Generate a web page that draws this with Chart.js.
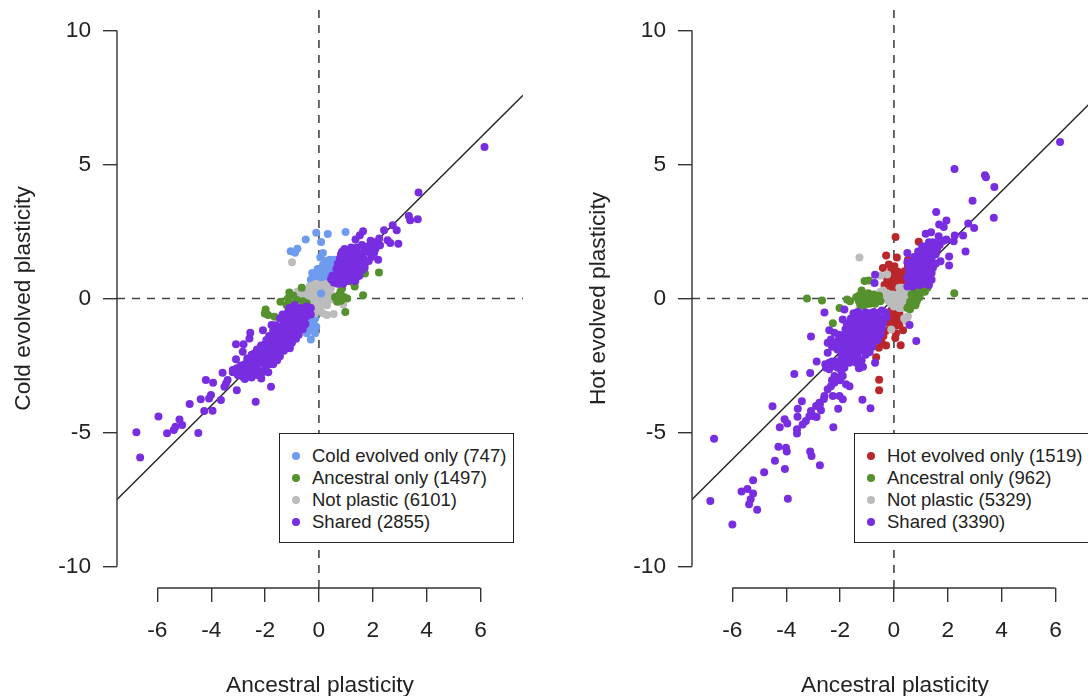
<!DOCTYPE html>
<html>
<head>
<meta charset="utf-8">
<title>Plasticity scatter</title>
<script src="https://cdn.jsdelivr.net/npm/chart.js@4"></script>
<style>
  html, body { margin: 0; padding: 0; background: #fff; }
  body { position: relative; width: 1088px; height: 696px; overflow: hidden; font-family: "Liberation Sans", Arial, sans-serif; color: #222; }
  canvas { position: absolute; top: 0; }
  #coldChart { left: 0; }
  #hotChart { left: 575px; }
  .legend { position: absolute; top: 433px; width: 233px; height: 108px; background: #fff; border: 1.3px solid #222; font-size: 18.5px; }
  #coldLegend { left: 279px; }
  #hotLegend { left: 854px; width: 240px; }
  .legend div { position: absolute; left: 32px; white-space: nowrap; line-height: 22px; }
  .legend i { position: absolute; left: -20px; top: 7px; width: 8px; height: 8px; border-radius: 50%; }
</style>
</head>
<body>
<canvas id="coldChart" width="540" height="696"></canvas>
<canvas id="hotChart" width="540" height="696"></canvas>
<div class="legend" id="coldLegend"></div>
<div class="legend" id="hotLegend"></div>
<script>
// axis ticks
const xTicks = [-6, -4, -2, 0, 2, 4, 6];
const yTicks = [-10, -5, 0, 5, 10];

// colours
const blue = "#6f9bee";
const red = "#b9272a";
const green = "#55912d";
const grey = "#bcbcbc";
const purple = "#782ee0";

// Cold panel, values
const coldOnly = [[-.1,2.45],[.33,2.41],[.99,2.48],[-.49,2.2],[.08,2.11],[-1.05,1.76],[-.89,1.71],[-.8,1.86],[.15,1.7],[.05,1.53],
  [.3,1.24],[.49,1.24],[.18,1.06],[.36,1.06],[-.08,.93],[.11,.87],[-.2,.75],[0,.68],[.24,.75],[.43,.93],[.61,1.18],[.1,1.0],[.25,.95],[-.05,.8],
  [.4,1.45],[.55,1.45],[.25,1.4],[.15,1.25],[-.25,.95],[-.3,.7],[-.05,1.1],[.5,.95],
  [-.26,-1.18],[-.45,-1.3],[-.3,-1.53],[-.14,-1.3],[-.39,-1.12],[-.14,-.75],[-.7,-1.06],[-.01,-.43],[-.26,-.68],[-.2,-.95],[-.1,-1.05],[-.35,-.9]];
const coldOnlyTop = [[.08,.19]];
const coldAncestral = [[1.71,.93],[2.23,.97],[1.64,.12],[.98,-.5],[1.24,.62],[1.33,.45],[.8,.25],[.93,.06],[.74,.12],[1.05,0],[.68,-.12],[.86,.37],[.6,.05],[.82,-.08],[1.15,.7],
  [-.64,.4],[-1.1,.22],[-1.43,-.12],[-1.15,0],[-1.08,-.18],[-.82,-.06],[-.45,-.18],[-.95,.1],[-1.2,-.25],[-1.05,-.3],[-.6,-.1],
  [-1.98,-.41],[-2.01,-.56],[-1.89,-.62],[-1.65,-.68]];
const coldNotPlastic = [[-1.0,1.35],[-.8,.25],[-.65,.1],[-.5,.3],[-.5,.1],[-.35,.45],[-.3,.2],[-.2,.5],[-.2,.05],[-.1,.3],[-.05,.1],[0,.45],[.1,.5],[.2,.35],[.3,.55],[.35,.2],[.45,.4],[.5,.1],[.25,.05],[.1,.05],[.4,-.05],[.6,-.05],[-.35,-.05],[0,-.15],[.15,-.2],[.3,-.25],[-.1,-.3],[.05,-.45],[-.15,-.55],[-.91,-.25],[.55,-.58],[.3,-.62],[.9,-.22],[.15,-.55],
  [-.6,.35],[-.4,.3],[.15,.15],[-.15,-.15],[.2,-.05],[-.05,-.45],[.4,.3],[-.1,.55],[.1,.3],[.25,.25],[-.25,.35]];
const coldShared = [[3.7,3.95],[3.34,3.08],[3.39,2.92],[3.67,2.96],[2.74,2.73],[2.42,2.55],[2.89,2.55],[1.64,2.51],[1.52,2.36],[1.36,2.2],[2.55,2.17],[2.65,2.07],[2.95,2.04],[2.24,2.24],[1.92,2.15],[2.27,1.99],[6.15,5.65],
  [.45,.72],[.55,.6],[.6,.85],[.7,.55],[.72,.75],[.75,1.0],[.8,.65],[.85,.85],[.88,1.15],[.9,.55],[.95,.75],[1.0,.95],[.95,1.3],[1.05,1.15],[1.08,.65],[1.1,.85],[.85,1.35],[1.15,1.05],[1.15,1.45],[1.2,1.25],[1.25,.85],[1.3,1.05],[1.05,1.5],[1.3,1.5],[1.35,1.3],[1.4,1.1],[1.45,1.7],[1.5,1.45],[1.55,1.25],[1.25,1.7],[1.6,1.7],[1.65,1.5],[1.7,1.9],[1.4,1.9],[1.8,1.75],[1.85,1.95],[1.95,2.05],[2.0,1.85],[1.6,2.0],[2.1,2.1],[1.75,1.35],[1.95,1.55],[2.2,1.45],[1.92,1.68],[1.42,.81],[1.42,1.06],[.86,1.74],[1.05,1.74],
  [.5,.85],[.5,.7],[.65,1.1],[.7,1.3],[.78,1.5],[.82,1.65],[.95,1.85],[1.2,1.9],[1.35,.65],[1.5,.85],[1.6,1.05],[1.7,1.15],[1.85,1.4],[2.05,1.7],[2.1,1.85],[2.2,2.0],[1.35,.85],[1.6,1.3],[1.1,1.65],[1.3,1.25],
  [-.4,-.45],[-.55,-.4],[-.7,-.35],[-.85,-.4],[-1.0,-.45],[-1.15,-.5],[-.45,-.65],[-.6,-.6],[-.75,-.55],[-.9,-.6],[-1.05,-.65],[-1.2,-.7],[-.55,-.8],[-.7,-.8],[-.85,-.8],[-1.0,-.8],[-1.15,-.85],[-1.3,-.85],[-.7,-1.0],[-.85,-1.0],[-1.0,-1.0],[-1.15,-1.0],[-1.3,-1.0],[-1.45,-1.05],[-.8,-1.2],[-.95,-1.15],[-1.1,-1.2],[-1.25,-1.15],[-1.4,-1.2],[-1.55,-1.2],[-1.0,-1.35],[-1.15,-1.35],[-1.3,-1.35],[-1.45,-1.35],[-1.6,-1.35],[-1.1,-1.55],[-1.25,-1.5],[-1.4,-1.55],[-1.55,-1.5],[-1.7,-1.55],[-1.25,-1.7],[-1.4,-1.7],[-1.55,-1.7],[-1.7,-1.7],[-1.85,-1.7],[-1.45,-1.9],[-1.6,-1.85],[-1.75,-1.9],[-1.9,-1.85],[-2.05,-1.9],[-1.65,-2.05],[-1.8,-2.05],[-1.95,-2.05],[-2.1,-2.05],[-2.25,-2.05],[-1.8,-2.2],[-1.95,-2.2],[-2.1,-2.2],[-2.25,-2.2],[-2.4,-2.25],[-2.05,-2.4],[-2.2,-2.4],[-2.35,-2.4],[-2.5,-2.45],[-2.3,-2.6],[-2.45,-2.6],[-2.6,-2.6],[-2.75,-2.65],[-2.9,-2.7],[-2.55,-2.75],[-2.7,-2.85],
  [-1.45,-.75],[-1.35,-.6],[-1.6,-1.0],[-1.7,-1.2],[-1.85,-1.4],[-1.95,-1.55],[-2.0,-1.7],[-2.15,-1.75],[-2.3,-1.9],[-2.4,-2.05],[-2.5,-2.1],[-2.65,-2.3],[-2.75,-2.45],[-2.9,-2.5],[-3.05,-2.6],[-3.2,-2.75],
  [-.3,-.6],[-.5,-.95],[-.6,-1.15],[-.75,-1.35],[-.85,-1.5],[-1.0,-1.65],[-1.1,-1.75],[-1.3,-1.95],[-1.45,-2.15],[-1.55,-2.3],[-1.7,-2.45],[-1.85,-2.45],[-2.0,-2.6],[-2.1,-2.75],[-2.3,-2.85],[-2.5,-2.95],[-2.75,-3.0],[-.45,-.3],[-.3,-.35],[-.9,-.25],[-1.1,-.35],
  [-6.78,-4.99],[-6.64,-5.93],[-5.96,-4.4],[-5.64,-5.03],[-5.39,-4.91],[-5.33,-4.78],[-5.18,-4.51],[-5.08,-4.72],[-4.48,-5.02],[-4.8,-3.94],[-4.39,-3.76],[-4.26,-4.2],[-3.95,-4.19],[-4.2,-3.04],[-3.93,-3.14],[-4.01,-3.6],[-4.08,-3.73],[-3.64,-3.79],[-3.58,-2.77],[-3.51,-3.29],[-3.39,-3.04],[-3.45,-3.17],[-3.05,-3.42],[-2.35,-3.85],[-2.14,-2.98],[-1.88,-2.75],[-1.78,-3.29],[-3.08,-1.71],[-2.8,-1.71],[-2.55,-1.28],[-2.58,-1.49],[-2.83,-1.99],[-3.08,-2.27],[-2.66,-2.24],[-3.2,-2.67],[-3.01,-2.86],[-2.83,-2.92],[-2.35,-2.67],[-1.7,-2.24],[-1.08,-1.86],[-1.39,-1.93],[-2.08,-1.18],[-1.76,-.99]];

// Hot panel, values
const hotOnly = [[.06,2.29],[.92,2.12],[-.29,1.6],[.11,1.53],[.52,1.45],[-.41,1.14],[-.19,1.27],[.02,1.2],[.21,.96],[.4,1.02],[.52,1.2],[-.05,.83],[.1,.7],[-.22,.52],[-.1,.33],[.09,.33],[.27,.46],[.15,1.0],[-.1,1.05],[.3,.85],
  [.0,.95],[.1,.85],[.25,.75],[.35,.7],[.45,.85],[-.05,.55],[.05,.5],[.2,.55],[-.25,.7],[-.3,.35],[-.35,.5],
  [.02,-.72],[-.1,-.78],[.15,-.85],[-.22,-.66],[-.04,-.97],[.21,-.66],[.05,-.55],[.34,-1.18],[.05,-1.47],[.25,-1.74],[-.29,-1.75],[-.56,-1.84],[-.39,-1.4],[-.66,-2.19],[-.55,-3.03],[-.55,-3.42],[-.45,-1.65],[-.3,-1.2],[.08,-1.3],
  [-.1,-.45],[.1,-.45],[.2,-.55],[-.15,-.95],[.1,-1.0],[.2,-1.0]];
const hotAncestral = [[-3.23,0],[-2.67,-.07],[-1.74,-.04],[-1.63,-.1],[-2.02,-.35],[-2.27,-.92],[-1.09,.65],[-.93,.67],[2.24,.2],
  [-1.4,.05],[-1.3,.1],[-1.3,-.1],[-1.25,-.25],[-1.15,.15],[-1.1,-.05],[-1.1,-.25],[-.95,.2],[-.9,0],[-.9,-.2],[-.75,.15],[-.7,-.05],[-.7,-.2],[-.55,.1],[-.5,-.1],[-1.2,.3],
  [.55,-.3],[.65,-.2],[.7,-.05],[.8,.1],[.85,-.1],[.65,.15],[.9,.25],[.95,.05],[.75,.3],[.85,.4],[1.25,.4],[1.1,.4],[.6,-.12],
  [.5,-.35],[.6,-.4],[.75,-.15],[.95,.15],[1.15,.25],[.7,.45],[.85,.5],[.8,-.25]];
const hotNotPlastic = [[-1.28,1.53],[-.5,.85],[-.4,.3],[-.25,.2],[-.5,.25],[-.3,0],[-.15,.05],[-.1,-.12],[0,.05],[.1,-.05],[.2,.1],[.3,.05],[.4,.15],[.1,-.25],[.25,-.2],[.2,-.35],[0,-.3],[.4,-.15],[.5,.25],[.3,.4],[.52,-.66],[.48,-.85],[-.1,-1.16],[-.91,-.62],[.38,-.75],[-.25,.9],
  [-.2,-.1],[.05,-.15],[.15,.15],[.35,-.25],[.45,0],[-.05,.15],[.5,.1],[-.1,-.2],[.3,-.35],[.2,.4]];
const hotShared = [[6.17,5.84],[2.25,4.83],[3.38,4.6],[3.42,4.52],[3.73,4.16],[2.92,3.65],[1.57,3.23],[3.71,3.01],[1.95,2.91],[1.68,2.76],[1.85,2.67],[2.76,2.8],[2.98,2.63],[1.18,2.42],[1.38,2.47],[1.66,2.32],[2.57,2.35],[2.26,2.35],[2.22,2.14],[1.95,2.2],[2.66,1.75],[2.05,1.57],[2.05,1.23],[1.73,1.39],[.5,1.7],[-.7,.89],[-.72,.58],[-2.58,-.52],[-1.84,-.41],[-3.08,-1.42],[-2.4,-1.18],[.58,-.99],[.83,-1.59],[-2.87,-2.35],[-3.7,-2.82],[-3.11,-2.78],[-.7,-2.4],[-1.17,-3.78],[-.87,-4.09],[-4.51,-4.02],[-3.42,-3.83],[-3.57,-4.11],[-3.58,-4.41],[-4.06,-4.5],[-3.96,-4.66],[-4.24,-4.8],[-2.25,-4.8],[-3.6,-4.88],[-3.6,-5.04],[-3.39,-4.7],[-3.27,-4.57],[-6.68,-5.23],[-4.29,-5.53],[-4.01,-5.57],[-3.98,-5.71],[-3.11,-5.71],[-3.06,-5.88],[-2.75,-6.22],[-4.42,-6.05],[-4.05,-6.36],[-4.82,-6.48],[-5.23,-6.78],[-5.66,-7.2],[-5.44,-7.11],[-5.23,-7.27],[-5.32,-7.49],[-5.38,-7.68],[-5.08,-7.88],[-3.94,-7.47],[-6.82,-7.55],[-6.0,-8.43],
  [-3.08,-4.2],[-2.96,-4.39],[-2.87,-4.42],[-2.71,-4.17],[-3.14,-4.39],[-2.89,-4.01],[-2.77,-3.89],[-2.58,-3.64],[-2.46,-3.39],[-2.34,-3.27],[-2.21,-3.14],[-2.09,-2.96],[-1.9,-2.89],[-1.78,-3.2],[-1.65,-3.27],[-2.27,-3.64],[-2.02,-3.64],[-1.9,-3.76],[-2.07,-4.11],[-2.21,-2.89],[-2.52,-2.58],[-2.4,-2.64],[-2.27,-2.52],[-2.09,-2.58],[-1.84,-2.58],[-1.65,-2.4],[-1.28,-2.58],[-1.4,-2.4],[-2.0,-3.05],[-1.95,-2.7],[-2.6,-3.75],[-2.75,-3.95],[-2.3,-3.05],
  [-1.5,-.55],[-1.35,-.5],[-1.2,-.55],[-1.05,-.52],[-.9,-.55],[-.75,-.5],[-.6,-.55],[-.45,-.45],[-.3,-.52],
  [-1.6,-.75],[-1.45,-.75],[-1.3,-.72],[-1.15,-.75],[-1.0,-.75],[-.85,-.75],[-.7,-.72],[-.55,-.75],[-.4,-.75],[-.27,-.7],
  [-1.75,-.95],[-1.6,-.95],[-1.45,-.92],[-1.3,-.95],[-1.15,-.95],[-1.0,-.95],[-.85,-.92],[-.7,-.95],[-.55,-.95],[-.4,-.92],
  [-1.8,-1.15],[-1.65,-1.15],[-1.5,-1.12],[-1.35,-1.15],[-1.2,-1.15],[-1.05,-1.15],[-.9,-1.12],[-.75,-1.15],[-.6,-1.15],[-.45,-1.12],
  [-1.85,-1.35],[-1.7,-1.35],[-1.55,-1.32],[-1.4,-1.35],[-1.25,-1.35],[-1.1,-1.35],[-.95,-1.32],[-.8,-1.35],[-.65,-1.32],
  [-1.9,-1.55],[-1.75,-1.55],[-1.6,-1.52],[-1.45,-1.55],[-1.3,-1.55],[-1.15,-1.55],[-1.0,-1.52],[-.85,-1.55],[-.75,-1.6],
  [-2.2,-1.7],[-1.95,-1.75],[-1.8,-1.75],[-1.65,-1.72],[-1.5,-1.75],[-1.35,-1.75],[-1.2,-1.72],[-1.05,-1.75],[-.95,-1.8],
  [-1.9,-1.95],[-1.75,-1.95],[-1.6,-1.92],[-1.45,-1.95],[-1.3,-1.95],[-1.15,-1.92],
  [-1.95,-2.15],[-1.8,-2.15],[-1.65,-2.12],[-1.5,-2.15],[-1.35,-2.12],
  [-2.0,-2.35],[-1.85,-2.32],[-1.7,-2.35],[-1.55,-2.32],[-1.4,-2.28],
  [-2.1,-1.9],[-2.05,-1.55],[-2.05,-1.35],[-.5,-1.35],[-.6,-1.55],[-.8,-1.8],[-.9,-2.0],[-1.05,-2.1],[-1.2,-2.3],[-1.15,-2.55],[-1.3,-2.6],[-2.3,-2.35],[-2.55,-2.45],[-2.4,-2.4],[-2.15,-2.35],[-2.46,-1.65],[-2.34,-1.53],[-2.21,-1.28],[-2.15,-1.78],[-1.9,-.78],[-2.46,-2.02],[-2.3,-1.8],
  [.6,.55],[.7,.45],[.8,.55],[.95,.5],[1.1,.55],[.65,.75],[.8,.75],[.95,.72],[1.1,.75],[1.25,.7],[.5,.8],[.6,.95],[.75,.95],[.9,.95],[1.05,.92],[1.2,.95],[.55,1.1],[.7,1.15],[.85,1.15],[1.0,1.12],[1.15,1.15],[1.3,1.1],[.7,1.35],[.85,1.35],[1.0,1.32],[1.15,1.35],[1.3,1.3],[.8,1.55],[.95,1.55],[1.1,1.52],[1.25,1.55],[1.4,1.5],[1.0,1.75],[1.15,1.75],[1.3,1.72],[1.45,1.7],[1.2,1.95],[1.35,1.92],[1.5,1.9],[1.3,2.1],[1.45,2.1],[1.6,2.05],[1.85,2.15],
  [.55,.7],[1.4,.7],[1.4,.95],[1.45,1.15],[1.55,1.3],[.5,1.35],[.6,1.3],[.75,1.55],[.9,1.75],[1.55,1.65],[1.6,1.85],[1.7,2.0],[1.05,1.95],[.5,.45],[1.3,.5],[1.35,1.35]];

// legend texts
const coldLabels = ["Cold evolved only (747)", "Ancestral only (1497)", "Not plastic (6101)", "Shared (2855)"];
const hotLabels = ["Hot evolved only (1519)", "Ancestral only (962)", "Not plastic (5329)", "Shared (3390)"];

// axis lines stop at the outer ticks like base R graphics
const axisLinePlugin = {
  id: "axisLines",
  afterDatasetsDraw(chart) {
    const { ctx, chartArea, scales } = chart;
    ctx.save();
    ctx.strokeStyle = "#333";
    ctx.lineWidth = 1.4;
    ctx.beginPath();
    ctx.moveTo(chartArea.left, scales.y.getPixelForValue(yTicks[0]));
    ctx.lineTo(chartArea.left, scales.y.getPixelForValue(yTicks[yTicks.length - 1]));
    ctx.moveTo(scales.x.getPixelForValue(xTicks[0]), chartArea.bottom);
    ctx.lineTo(scales.x.getPixelForValue(xTicks[xTicks.length - 1]), chartArea.bottom);
    ctx.stroke();
    ctx.restore();
  },
};

function lineSet(points, dash) {
  return {
    type: "line",
    order: 10,
    data: points.map((p) => ({ x: p[0], y: p[1] })),
    borderColor: dash ? "#444" : "#222",
    borderWidth: dash ? 1.6 : 1.4,
    borderDash: dash ? [8, 7] : [],
    pointRadius: 0,
    fill: false,
  };
}

function makePanel(canvasId, yLabel, series) {
  const xMin = -7.5, xMax = 7.58, yMin = -10.8, yMax = 10.8;
  const datasets = [
    lineSet([[xMin, xMin], [xMax, xMax]], false),
    lineSet([[xMin, 0], [xMax, 0]], true),
    lineSet([[0, yMin], [0, yMax]], true),
  ];
  // lower order is painted on top
  series.forEach((s, i) => {
    datasets.push({
      type: "scatter",
      order: series.length - i,
      data: s.points.map((p) => ({ x: p[0], y: p[1] })),
      backgroundColor: s.color,
      borderWidth: 0,
      pointRadius: 4,
    });
  });
  const tickFont = { family: "'Liberation Sans', Arial, sans-serif", size: 22.7 };
  return new Chart(document.getElementById(canvasId), {
    data: { datasets: datasets },
    plugins: [axisLinePlugin],
    options: {
      responsive: false,
      animation: false,
      layout: { padding: { top: 9, right: 17, left: 0, bottom: 0 } },
      plugins: { legend: { display: false }, tooltip: { enabled: false } },
      scales: {
        x: {
          type: "linear",
          min: xMin,
          max: xMax,
          afterBuildTicks: (scale) => { scale.ticks = xTicks.map((v) => ({ value: v })); },
          afterFit: (scale) => { scale.height = 108; scale.paddingLeft = 0; scale.paddingRight = 0; },
          border: { display: false },
          grid: { drawOnChartArea: false, drawTicks: true, tickLength: 14, color: "#333", lineWidth: 1.4 },
          ticks: { color: "#222", font: tickFont, padding: 15, maxRotation: 0, autoSkip: false },
          title: { display: true, text: "Ancestral plasticity", color: "#222", font: tickFont, padding: { top: 0, bottom: -3 } },
        },
        y: {
          type: "linear",
          min: yMin,
          max: yMax,
          afterBuildTicks: (scale) => { scale.ticks = yTicks.map((v) => ({ value: v })); },
          afterFit: (scale) => { scale.width = 117; scale.paddingTop = 0; scale.paddingBottom = 0; },
          border: { display: false },
          grid: { drawOnChartArea: false, drawTicks: true, tickLength: 14, color: "#333", lineWidth: 1.4 },
          ticks: { color: "#222", font: tickFont, padding: 12, autoSkip: false },
          title: { display: true, text: yLabel, color: "#222", font: tickFont, padding: { top: 10, bottom: 0 } },
        },
      },
    },
  });
}

// R style legend box, filled from the same labels and colours
function makeLegend(id, labels, colors) {
  const box = document.getElementById(id);
  labels.forEach((label, i) => {
    const row = document.createElement("div");
    row.style.top = 11 + i * 22 + "px";
    row.textContent = label;
    const dot = document.createElement("i");
    dot.style.background = colors[i];
    row.appendChild(dot);
    box.appendChild(row);
  });
}

makePanel("coldChart", "Cold evolved plasticity", [
  { points: coldOnly, color: blue },
  { points: coldNotPlastic, color: grey },
  { points: coldOnlyTop, color: blue },
  { points: coldAncestral, color: green },
  { points: coldShared, color: purple },
]);
makePanel("hotChart", "Hot evolved plasticity", [
  { points: hotOnly, color: red },
  { points: hotNotPlastic, color: grey },
  { points: hotAncestral, color: green },
  { points: hotShared, color: purple },
]);
makeLegend("coldLegend", coldLabels, [blue, green, grey, purple]);
makeLegend("hotLegend", hotLabels, [red, green, grey, purple]);
</script>
</body>
</html>
